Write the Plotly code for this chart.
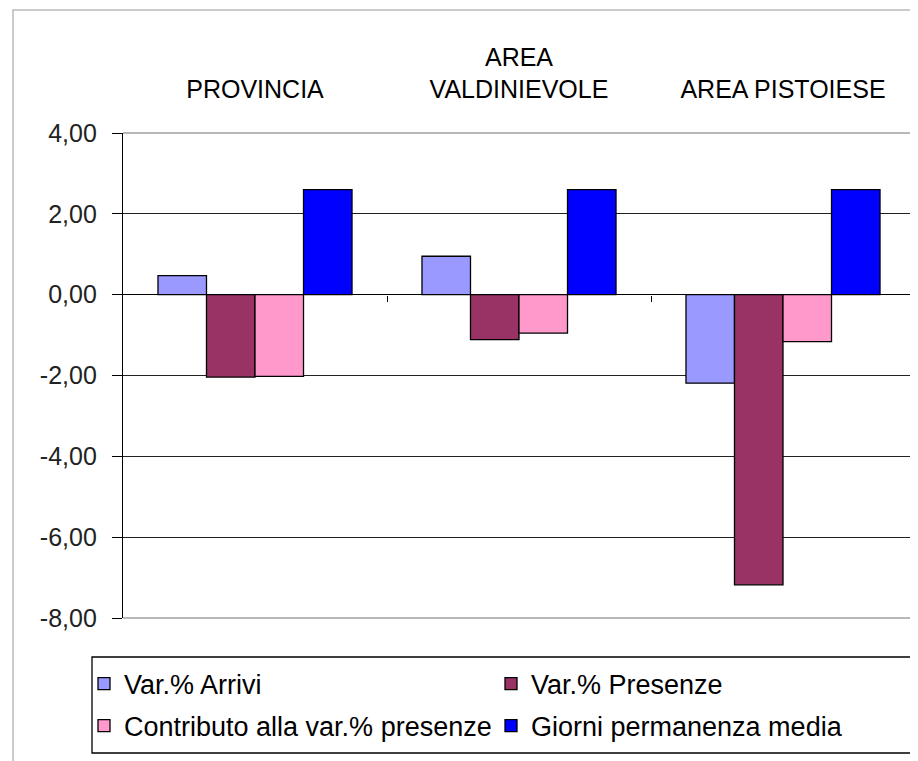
import plotly.graph_objects as go

categories = ["PROVINCIA", "AREA<br>VALDINIEVOLE", "AREA PISTOIESE"]
series_names = ["Var.% Arrivi", "Var.% Presenze",
                "Contributo alla var.% presenze", "Giorni permanenza media"]
arrivi = [0.47, 0.95, -2.19]
presenze = [-2.04, -1.11, -7.18]
contributo = [-2.02, -0.95, -1.16]
giorni = [2.60, 2.60, 2.60]
colors = ["#9999FF", "#993366", "#FF99CC", "#0000FF"]
y_ticks = [4, 2, 0, -2, -4, -6, -8]
y_tick_labels = ["4,00", "2,00", "0,00", "-2,00", "-4,00", "-6,00", "-8,00"]
legend_rows = ["legend", "legend", "legend2", "legend2"]

FONT = "Liberation Sans, Arial, sans-serif"

# page offset (browser body margin)
OFF = 8
W, H = 918 - OFF, 761 - OFF
L, R, T, B = 123 - OFF, 3, 133 - OFF, 761 - 618
pw, ph = W - L - R, H - T - B


def px(sx):
    return (sx - OFF - L) / pw


def py(sy):
    return (H - B - (sy - OFF)) / ph


fig = go.Figure()
for name, vals, col, lg in zip(series_names, [arrivi, presenze, contributo, giorni],
                               colors, legend_rows):
    fig.add_trace(go.Bar(x=categories, y=vals, name=name, legend=lg,
                         marker=dict(color=col, line=dict(color="black", width=1.3))))

# invisible trace for the overlay axis carrying boundary ticks at the zero line
fig.add_trace(go.Scatter(x=[0], y=[0], xaxis="x2", mode="markers",
                         marker=dict(opacity=0), showlegend=False, hoverinfo="skip"))

legend_common = dict(orientation="h", xanchor="left", yanchor="middle",
                     entrywidth=362, entrywidthmode="pixels", itemwidth=30,
                     font=dict(family=FONT, size=27, color="black"),
                     bgcolor="rgba(0,0,0,0)", borderwidth=0)

fig.update_layout(
    width=W, height=H,
    margin=dict(l=L, r=R, t=T, b=B),
    paper_bgcolor="white", plot_bgcolor="white",
    font=dict(family=FONT, size=25, color="black"),
    barmode="group", bargap=0.265, bargroupgap=0,
    showlegend=True,
    legend=dict(x=px(84), y=py(684), **legend_common),
    legend2=dict(x=px(84), y=py(726), **legend_common),
    xaxis=dict(type="category", side="top", showgrid=False, showline=False,
               ticks="", ticklabelstandoff=29, tickfont=dict(size=25, color="black"),
               range=[-0.5, 2.5]),
    xaxis2=dict(overlaying="x", anchor="free", position=8 / 12, range=[-0.5, 2.5],
                tickvals=[0.5, 1.5, 2.5], ticks="outside", ticklen=6, tickwidth=1,
                tickcolor="black", showticklabels=False, showgrid=False,
                showline=False, zeroline=False),
    yaxis=dict(range=[-8, 4], tickvals=y_ticks, ticktext=y_tick_labels,
               showgrid=True, gridcolor="#222", gridwidth=1,
               zeroline=True, zerolinecolor="black", zerolinewidth=1,
               showline=True, linecolor="black", linewidth=1.3,
               ticks="outside", ticklen=10, tickcolor="black",
               ticklabelstandoff=10,
               tickfont=dict(size=25, color="#222")),
    shapes=[
        # plot area border (top, right, bottom)
        dict(type="line", xref="paper", yref="paper", x0=0, x1=1, y0=1, y1=1,
             line=dict(color="#A0A0A0", width=1.5), layer="above"),
        dict(type="line", xref="paper", yref="paper", x0=1, x1=1, y0=0, y1=1,
             line=dict(color="#A0A0A0", width=1.5), layer="above"),
        dict(type="line", xref="paper", yref="paper", x0=0, x1=1, y0=0, y1=0,
             line=dict(color="#A0A0A0", width=1.5), layer="above"),
        # legend box
        dict(type="rect", xref="paper", yref="paper", x0=px(92), x1=px(935),
             y0=py(753), y1=py(657), line=dict(color="black", width=1.3),
             fillcolor="rgba(0,0,0,0)", layer="above"),
        # outer chart frame
        dict(type="rect", xref="paper", yref="paper", x0=px(13), x1=px(940),
             y0=py(790), y1=py(10), line=dict(color="#BBBBBB", width=1.5),
             fillcolor="rgba(0,0,0,0)", layer="above"),
    ],
)

fig.write_html("out.html")
